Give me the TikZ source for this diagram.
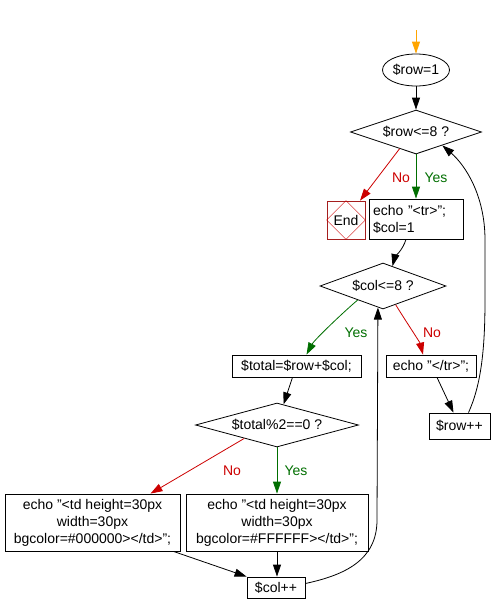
\documentclass[tikz,border=0pt]{standalone}
\usepackage{fontspec}
\setmainfont{Liberation Sans}
\usepackage{tikz}
\definecolor{flowRed}{RGB}{204, 0, 0}
\definecolor{flowGreen}{RGB}{0, 110, 0}
\definecolor{flowOrange}{RGB}{255, 165, 0}
\definecolor{endBrown}{RGB}{165, 30, 30}
\usetikzlibrary{shapes.geometric, arrows.meta, positioning, calc}

\begin{document}
\begin{tikzpicture}[
    x=1pt, y=-1pt,
    font=\fontsize{14}{17}\selectfont,
    box/.style={rectangle, draw, line width=0.8pt, inner sep=3pt, align=center},
    decision/.style={diamond, draw, line width=0.8pt, inner sep=0pt},
    arrow/.style={-{Triangle[length=12pt, width=8pt]}, line width=0.8pt},
    yesarrow/.style={arrow, flowGreen},
    noarrow/.style={arrow, flowRed},
    yeslabel/.style={text=flowGreen, inner sep=1pt},
    nolabel/.style={text=flowRed, inner sep=1pt}
]
    \useasboundingbox (0,0) rectangle (492,614);

    \coordinate (start) at (416,30);
    \node[ellipse, draw, line width=0.8pt, minimum width=67pt, minimum height=32pt, inner sep=0pt] (init) at (416,70) {\$row=1};
    \node[decision, aspect=3, minimum width=131pt, minimum height=44pt] (rowtest) at (416,132) {\$row<=8 ?};
    \node[rectangle, draw=endBrown, line width=0.8pt, minimum size=38pt, inner sep=0pt] (finish) at (346,220) {End};
    \node[box, align=left, text width=86pt, inner sep=4pt, minimum height=40pt] (rowstart) at (416,219) {echo "<tr>";\\\$col=1};
    \node[decision, aspect=2.74, minimum width=126pt, minimum height=46pt] (coltest) at (383,286) {\$col<=8 ?};
    \node[box, minimum width=129pt, minimum height=22pt] (total) at (296.5,366) {\$total=\$row+\$col;};
    \node[box, minimum width=90pt, minimum height=22pt] (rowend) at (431,366) {echo "</tr>";};
    \node[box, minimum width=61pt, minimum height=26pt] (rowinc) at (459.5,426) {\$row++};
    \node[decision, aspect=3.7, minimum width=163pt, minimum height=44pt] (modtest) at (277,425) {\$total\%2==0 ?};
    \node[box, minimum width=175pt, minimum height=57pt] (black) at (92.5,522.5) {echo "<td height=30px\\width=30px\\bgcolor=\#000000></td>";};
    \node[box, minimum width=182pt, minimum height=57pt] (white) at (277,522.5) {echo "<td height=30px\\width=30px\\bgcolor=\#FFFFFF></td>";};
    \node[box, minimum width=58pt, minimum height=21pt] (colinc) at (276,587.5) {\$col++};

    % end symbol
    \draw[flowRed, line width=0.4pt] (finish.north) -- (finish.east) -- (finish.south) -- (finish.west) -- cycle;

    \draw[arrow, flowOrange] (start) -- (init);
    \draw[arrow] (init) -- (rowtest);
    \draw[yesarrow] (rowtest.south) -- (rowstart.north);
    \draw[noarrow] ($(rowtest.west)!0.75!(rowtest.south)$) -- ([xshift=14pt]finish.north);
    \node[nolabel] (rowno) at (401,178) {No};
    \node[yeslabel] (rowyes) at (436,178) {Yes};

    \draw[arrow] ([xshift=-10pt]rowstart.south) .. controls +(-3,10) and +(2,-8) .. ($(coltest.north)!0.15!(coltest.east)$);
    \draw[yesarrow] ($(coltest.west)!0.6!(coltest.south)$) .. controls +(-12,10) and +(8,-15) .. ([xshift=10pt]total.north);
    \draw[noarrow] ($(coltest.south)!0.2!(coltest.east)$) .. controls +(6,10) and +(-3,-12) .. ([xshift=-8pt]rowend.north);
    \node[yeslabel] (colyes) at (356,333) {Yes};
    \node[nolabel] (colno) at (432,333) {No};

    \draw[arrow] ([xshift=6pt]rowend.south) -- ([xshift=-6pt]rowinc.north);
    \draw[arrow] ([xshift=9pt]rowinc.north) .. controls (481,385) and (485,350) .. (485,300) -- (485,240) .. controls (485,195) and (465,165) .. ($(rowtest.south)!0.4!(rowtest.east)$);

    \draw[arrow] ([xshift=-4pt]total.south) -- ($(modtest.north)!0.08!(modtest.east)$);
    \draw[yesarrow] (modtest.south) -- (white.north);
    \draw[noarrow] ($(modtest.west)!0.6!(modtest.south)$) -- ([xshift=58pt]black.north);
    \node[nolabel] (modno) at (232,471) {No};
    \node[yeslabel] (modyes) at (296,471) {Yes};

    \draw[arrow] (white.south) -- (colinc.north -| white.south);
    \draw[arrow] ([xshift=-7pt]black.south east) -- (colinc.north west);
    \draw[arrow] ([yshift=4pt]colinc.east) .. controls (345,575) and (377,560) .. (377,520) -- ($(coltest.south)!0.08!(coltest.west)$);
\end{tikzpicture}
\end{document}
